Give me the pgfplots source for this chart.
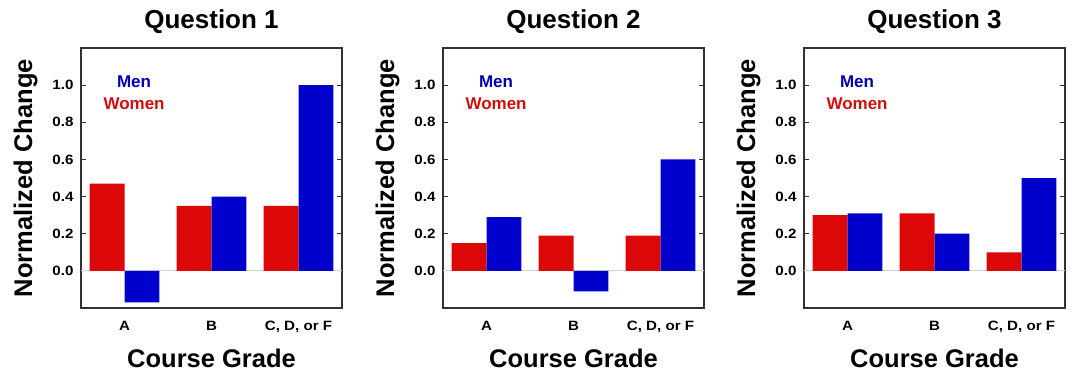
\documentclass[border=0pt]{standalone}
\usepackage{pgfplots}
\pgfplotsset{compat=1.18}
\usepackage{fontspec}
\setmainfont{Liberation Sans}
\newfontfamily\tickfont[FakeStretch=1.12]{Liberation Sans}

\definecolor{barred}{RGB}{220,8,8}
\definecolor{barblue}{RGB}{0,0,205}
\definecolor{txtblue}{RGB}{0,0,175}
\definecolor{txtred}{RGB}{210,15,15}
\definecolor{boxgray}{RGB}{50,50,50}

% women / men per grade, grade at 0.5, 1.5, 2.5
\pgfplotstableread{
x   w1    m1    w2    m2    w3    m3
0.5 0.47 -0.17  0.15  0.29  0.30  0.31
1.5 0.35  0.40  0.19 -0.11  0.31  0.20
2.5 0.35  1.00  0.19  0.60  0.10  0.50
}\grades

\pgfplotsset{
  panel/.style={
    scale only axis, width=261pt, height=260pt,
    anchor=south west,
    xmin=0, xmax=3, ymin=-0.2, ymax=1.2,
    axis line style={boxgray, line width=1.3pt},
    xtick={0.5,1.5,2.5},
    xticklabels={A, B, {C, D, or F}},
    major x tick style={draw=none},
    extra x ticks={1,2},
    extra x tick labels={},
    extra x tick style={major tick length=4pt, tick style={boxgray, line width=1.2pt, draw=boxgray}},
    ytick={0,0.2,...,1.0},
    /pgf/number format/fixed,
    /pgf/number format/fixed zerofill,
    /pgf/number format/precision=1,
    /pgf/number format/assume math mode=true,
    tick align=inside,
    major tick length=5pt,
    tick style={boxgray, line width=1.2pt},
    ticklabel style={font=\tickfont\fontsize{13.5}{16}\selectfont\bfseries},
    yticklabel style={xshift=-4pt},
    xticklabel style={yshift=-5pt},
    xlabel={Course Grade},
    ylabel={Normalized Change},
    label style={font=\fontsize{25.5}{28}\selectfont\bfseries},
    xlabel style={yshift=0pt},
    ylabel style={yshift=8pt},
    title style={font=\fontsize{26}{29}\selectfont\bfseries, yshift=5pt},
    ybar, bar width=0.4, bar shift=0pt,
  },
  women/.style={fill=barred, draw=none, bar shift=-0.2},
  men/.style={fill=barblue, draw=none, bar shift=0.2},
}

\newcommand{\zeroline}{\draw[gray!35, line width=0.8pt] (axis cs:0,0) -- (axis cs:3,0);}
\newcommand{\sexkey}{%
  \node[txtblue, font=\fontsize{17}{19}\selectfont\bfseries] at (axis cs:0.61,1.02) {Men};
  \node[txtred, font=\fontsize{17}{19}\selectfont\bfseries] at (axis cs:0.61,0.90) {Women};}

\begin{document}
\begin{tikzpicture}[x=1pt,y=1pt]
\useasboundingbox (0,0) rectangle (1081,375);

\begin{axis}[panel, at={(81pt,67pt)}, title={Question 1}]
\zeroline
\addplot[women] table[x=x, y=w1] {\grades};
\addplot[men] table[x=x, y=m1] {\grades};
\sexkey
\end{axis}

\begin{axis}[panel, at={(443pt,67pt)}, title={Question 2}]
\zeroline
\addplot[women] table[x=x, y=w2] {\grades};
\addplot[men] table[x=x, y=m2] {\grades};
\sexkey
\end{axis}

\begin{axis}[panel, at={(804pt,67pt)}, title={Question 3}]
\zeroline
\addplot[women] table[x=x, y=w3] {\grades};
\addplot[men] table[x=x, y=m3] {\grades};
\sexkey
\end{axis}

\end{tikzpicture}
\end{document}
